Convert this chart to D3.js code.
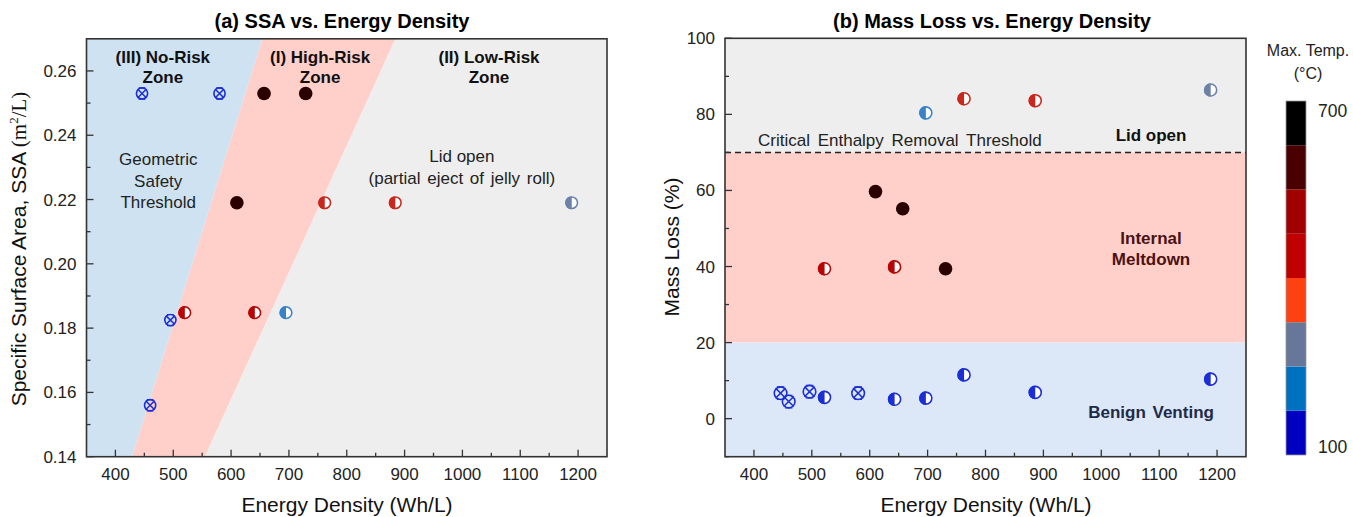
<!DOCTYPE html>
<html><head><meta charset="utf-8">
<script src="https://cdn.jsdelivr.net/npm/d3@7"></script>
<style>
body{margin:0;background:#fff}
svg{display:block}
text{font-family:"Liberation Sans",Arial,sans-serif}
</style></head>
<body><svg id="c" width="1353" height="517"></svg>
<script>
// ---------------- DATA ----------------
const energyTicks = [400,500,600,700,800,900,1000,1100,1200];
const energyMinor = [450,550,650,750,850,950,1050,1150];
const ssaTicks = [0.14,0.16,0.18,0.20,0.22,0.24,0.26];
const ssaMinor = [0.15,0.17,0.19,0.21,0.23,0.25];
const massTicks = [0,20,40,60,80,100];
const massMinor = [-10,10,30,50,70,90];

// temperature colour bar (°C)
const tempEdges = [100,175,250,325,400,475,550,625,700];
const barColors = ["#0000c0","#0070c0","#667799","#ff4010","#c00000","#a00000","#4a0000","#000000"];
const markColors = ["#1c2fd6","#3a83c8","#6d80a8","#ff4a1a","#c8281e","#b80505","#2a0000","#2a0000"];
const tempLabels = ["100","700"];

// Panel (a): SSA vs energy density
const aCrossE = [446,580,495,460];
const aCrossSSA = [0.253,0.253,0.1825,0.156];
const aCrossT = [120,120,120,120];
const aFullE = [657,729,610];
const aFullSSA = [0.253,0.253,0.219];
const aFullT = [680,680,680];
const aHalfE = [762,884,1189,520,641,695];
const aHalfSSA = [0.219,0.219,0.219,0.1848,0.1848,0.1848];
const aHalfT = [440,440,300,510,510,220];

// Panel (b): mass loss vs energy density
const bCrossE = [446,460,496,580];
const bCrossLoss = [6.7,4.5,7.1,6.7];
const bCrossT = [120,120,120,120];
const bFullE = [610,657,731];
const bFullLoss = [59.7,55.2,39.4];
const bFullT = [680,680,680];
const bHalfE = [522,643,697,763,886,1189,522,643,697,763,886,1189];
const bHalfLoss = [39.4,39.9,80.4,84.1,83.6,86.4,5.6,5.1,5.4,11.5,6.9,10.4];
const bHalfT = [510,510,220,440,440,300,120,120,120,120,120,120];

// zones
const zoneNoRisk = [[350,0.14],[428.7,0.14],[654,0.27],[350,0.27]];
const zoneHighRisk = [[428.7,0.14],[554.4,0.14],[884,0.27],[654,0.27]];
const zoneLowRisk = [[554.4,0.14],[1250,0.14],[1250,0.27],[884,0.27]];
const bandLid = [70,100], bandMelt = [20,70], bandBenign = [-10,20];
const thresholdLoss = 70;

// ---------------- DRAW ----------------
const svg = d3.select("#c");
const tempColor = d3.scaleThreshold().domain(tempEdges.slice(1,-1)).range(markColors);

function txt(g,x,y,s,o={}){
  const t=g.append("text").attr("x",x).attr("y",y).text(s)
    .attr("font-size",o.size||17).attr("text-anchor",o.anchor||"middle")
    .attr("fill",o.fill||"#111");
  if(o.bold) t.attr("font-weight","bold");
  if(o.ws) t.attr("word-spacing",o.ws);
  return t;
}

function axes(g,x,y,yTicks,yMinor,yFmt){
  const [x0,x1]=x.range(), [y0,y1]=y.range();
  const ax=g.append("g");
  energyTicks.forEach(v=>ax.append("line").attr("x1",x(v)).attr("x2",x(v)).attr("y1",y0).attr("y2",y0-7).attr("stroke","#333").attr("stroke-width",1.3));
  energyMinor.forEach(v=>ax.append("line").attr("x1",x(v)).attr("x2",x(v)).attr("y1",y0).attr("y2",y0-4).attr("stroke","#333").attr("stroke-width",1.3));
  yTicks.forEach(v=>ax.append("line").attr("x1",x0).attr("x2",x0+7).attr("y1",y(v)).attr("y2",y(v)).attr("stroke","#333").attr("stroke-width",1.3));
  yMinor.forEach(v=>ax.append("line").attr("x1",x0).attr("x2",x0+4).attr("y1",y(v)).attr("y2",y(v)).attr("stroke","#333").attr("stroke-width",1.3));
  energyTicks.forEach(v=>txt(ax,x(v),480,v,{size:17,fill:"#222"}));
  yTicks.forEach(v=>txt(ax,x0-10,y(v)+6,yFmt(v),{size:17,fill:"#222",anchor:"end"}));
  g.append("rect").attr("x",x0).attr("y",y1).attr("width",x1-x0).attr("height",y0-y1)
    .attr("fill","none").attr("stroke","#333").attr("stroke-width",1.6);
}

function crossMark(g,cx,cy,r,c){
  const m=g.append("g").attr("transform",`translate(${cx},${cy})`);
  m.append("circle").attr("r",r).attr("fill","none").attr("stroke",c).attr("stroke-width",1.6);
  const k=r*0.8;
  m.append("path").attr("d",`M${-k},${-k}L${k},${k}M${-k},${k}L${k},${-k}`).attr("stroke",c).attr("stroke-width",1.5);
  m.append("path").attr("d",`M${-r*0.6},${-r}H${r*0.6}M${-r*0.6},${r}H${r*0.6}`).attr("stroke",c).attr("stroke-width",1.2);
}
function fullMark(g,cx,cy,r,c){
  g.append("circle").attr("cx",cx).attr("cy",cy).attr("r",r).attr("fill",c);
}
function halfMark(g,cx,cy,r,c){
  const m=g.append("g").attr("transform",`translate(${cx},${cy})`);
  m.append("circle").attr("r",r).attr("fill","#fff");
  m.append("path").attr("d",`M0,${-r}A${r},${r} 0 0 0 0,${r}Z`).attr("fill",c);
  m.append("circle").attr("r",r-0.8).attr("fill","none").attr("stroke",c).attr("stroke-width",1.6);
}

// ----- Panel (a) -----
const ga=svg.append("g");
const xa=d3.scaleLinear().domain([350,1250]).range([86.5,607]);
const ya=d3.scaleLinear().domain([0.14,0.27]).range([456.7,38.8]);
const poly=d3.line().x(d=>xa(d[0])).y(d=>ya(d[1]));
ga.append("path").attr("d",poly(zoneLowRisk)+"Z").attr("fill","#eeeeee");
ga.append("path").attr("d",poly(zoneHighRisk)+"Z").attr("fill","#ffcfca");
ga.append("path").attr("d",poly(zoneNoRisk)+"Z").attr("fill","#cfe2f2");

txt(ga,xa(482),ya(0.2626),"(III) No-Risk",{bold:true});
txt(ga,xa(482),ya(0.2562),"Zone",{bold:true});
txt(ga,xa(754),ya(0.2626),"(I) High-Risk",{bold:true});
txt(ga,xa(754),ya(0.2562),"Zone",{bold:true});
txt(ga,xa(1046),ya(0.2626),"(II) Low-Risk",{bold:true});
txt(ga,xa(1046),ya(0.2562),"Zone",{bold:true});
txt(ga,xa(474),ya(0.2308),"Geometric",{fill:"#222"});
txt(ga,xa(474),ya(0.2240),"Safety",{fill:"#222"});
txt(ga,xa(474),ya(0.2173),"Threshold",{fill:"#222"});
txt(ga,xa(999),ya(0.2318),"Lid open",{fill:"#222"});
txt(ga,xa(999),ya(0.2249),"(partial eject of jelly roll)",{fill:"#222",ws:2});

aCrossE.forEach((e,i)=>crossMark(ga,xa(e),ya(aCrossSSA[i]),5.6,tempColor(aCrossT[i])));
aFullE.forEach((e,i)=>fullMark(ga,xa(e),ya(aFullSSA[i]),6.8,tempColor(aFullT[i])));
aHalfE.forEach((e,i)=>halfMark(ga,xa(e),ya(aHalfSSA[i]),6.6,tempColor(aHalfT[i])));

axes(ga,xa,ya,ssaTicks,ssaMinor,d=>d3.format(".2f")(d));
txt(ga,342,28.3,"(a) SSA vs. Energy Density",{size:20,bold:true,fill:"#000"});
txt(ga,347,512,"Energy Density (Wh/L)",{size:21,fill:"#111"});
const yl=ga.append("text").attr("transform","translate(26,249) rotate(-90)").attr("text-anchor","middle").attr("font-size",21).attr("fill","#111");
yl.append("tspan").text("Specific Surface Area, SSA ");
const ser=yl.append("tspan").attr("font-family","'Liberation Serif',serif");
ser.append("tspan").text("(m");
ser.append("tspan").attr("dy",-8).attr("font-size",13).text("2");
ser.append("tspan").attr("dy",8).text("/L)");

// ----- Panel (b) -----
const gb=svg.append("g");
const xb=d3.scaleLinear().domain([350,1250]).range([725,1246]);
const yb=d3.scaleLinear().domain([-10,100]).range([456.7,38.3]);
const band=(b,c)=>gb.append("rect").attr("x",xb(350)).attr("width",xb(1250)-xb(350)).attr("y",yb(b[1])).attr("height",yb(b[0])-yb(b[1])).attr("fill",c);
band(bandLid,"#eeeeee");band(bandMelt,"#ffcfca");band(bandBenign,"#dce8f8");
gb.append("line").attr("x1",xb(350)).attr("x2",xb(1250)).attr("y1",yb(thresholdLoss)).attr("y2",yb(thresholdLoss))
  .attr("stroke","#222").attr("stroke-width",1.5).attr("stroke-dasharray","6,4");
txt(gb,xb(652),yb(71.6),"Critical Enthalpy Removal Threshold",{fill:"#222",ws:3});
txt(gb,xb(1086),yb(72.9),"Lid open",{bold:true,fill:"#111"});
txt(gb,xb(1086),yb(45.8),"Internal",{bold:true,fill:"#4a1212"});
txt(gb,xb(1086),yb(40.4),"Meltdown",{bold:true,fill:"#4a1212"});
txt(gb,xb(1086),yb(0.2),"Benign Venting",{bold:true,fill:"#1f2a48",ws:2});

bCrossE.forEach((e,i)=>crossMark(gb,xb(e),yb(bCrossLoss[i]),6.3,tempColor(bCrossT[i])));
bFullE.forEach((e,i)=>fullMark(gb,xb(e),yb(bFullLoss[i]),6.8,tempColor(bFullT[i])));
bHalfE.forEach((e,i)=>halfMark(gb,xb(e),yb(bHalfLoss[i]),6.8,tempColor(bHalfT[i])));

axes(gb,xb,yb,massTicks,massMinor,d=>d);
txt(gb,992,28.3,"(b) Mass Loss vs. Energy Density",{size:20,bold:true,fill:"#000"});
txt(gb,986,512,"Energy Density (Wh/L)",{size:21,fill:"#111"});
gb.append("text").attr("transform","translate(679,247) rotate(-90)").attr("text-anchor","middle").attr("font-size",21).attr("fill","#111").text("Mass Loss (%)");

// ----- Colour bar -----
const gc=svg.append("g");
const yc=d3.scaleLinear().domain([100,700]).range([455,101]);
barColors.forEach((c,i)=>gc.append("rect").attr("x",1286).attr("width",20)
  .attr("y",yc(tempEdges[i+1])).attr("height",yc(tempEdges[i])-yc(tempEdges[i+1])).attr("fill",c));
gc.append("rect").attr("x",1286).attr("width",20).attr("y",yc(700)).attr("height",yc(100)-yc(700)).attr("fill","none").attr("stroke","#999").attr("stroke-width",0.8);
txt(gc,1318,yc(700)+16,tempLabels[1],{size:17.5,anchor:"start",fill:"#222"});
txt(gc,1318,yc(100)-2,tempLabels[0],{size:17.5,anchor:"start",fill:"#222"});
txt(gc,1308,56,"Max. Temp.",{size:16,fill:"#222"});
txt(gc,1308,79,"(°C)",{size:16,fill:"#222"});
</script></body></html>
